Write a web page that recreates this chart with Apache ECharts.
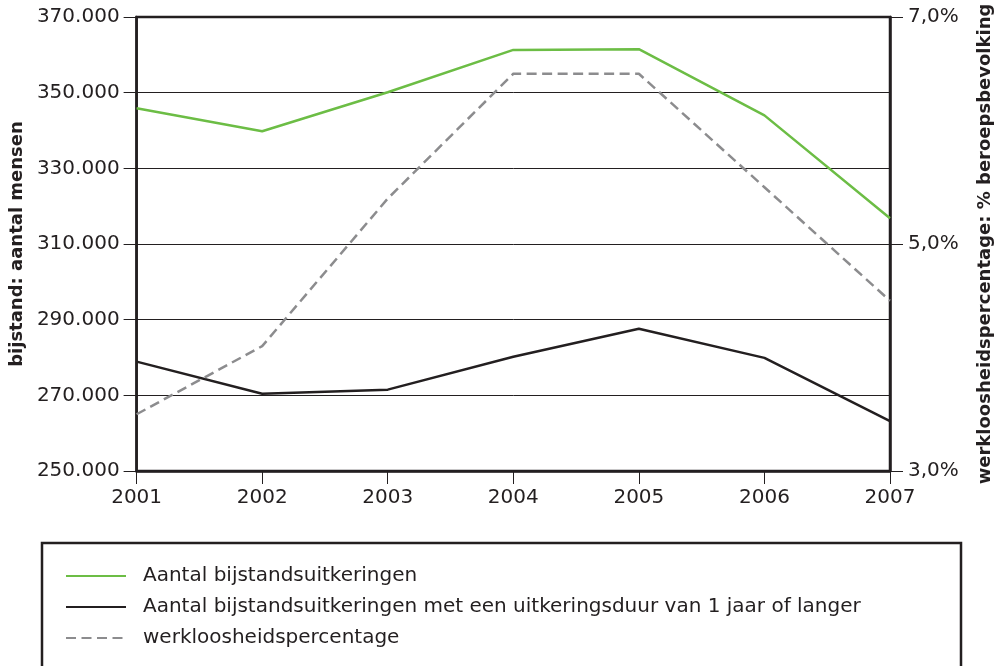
<!DOCTYPE html>
<html>
<head>
<meta charset="utf-8">
<script src="https://cdn.jsdelivr.net/npm/echarts@6/dist/echarts.min.js"></script>
<style>
  html, body { margin: 0; padding: 0; background: #fff; }
  #chart { width: 1003px; height: 666px; }
</style>
</head>
<body>
<div id="chart"></div>
<script>
window.addEventListener("load", function () {
    var myChart = echarts.init(document.querySelector("#chart"));

    // jaren op de x-as
    var jaren = ['2001', '2002', '2003', '2004', '2005', '2006', '2007'];
    // aantal bijstandsuitkeringen
    var bijstand = [345900, 339800, 350100, 361300, 361500, 344000, 316800];
    // uitkeringsduur 1 jaar of langer
    var bijstandLang = [278900, 270400, 271500, 280200, 287600, 279900, 263200];
    // werkloosheidspercentage (%)
    var werkloos = [3.5, 4.1, 5.4, 6.5, 6.5, 5.5, 4.5];

    var namen = [
        'Aantal bijstandsuitkeringen',
        'Aantal bijstandsuitkeringen met een uitkeringsduur van 1 jaar of langer',
        'werkloosheidspercentage'
    ];

    var font = 'DejaVu Sans, Verdana, sans-serif';
    var donker = '#231f20';

    var option = {
        animation: false,
        textStyle: { fontFamily: font },
        grid: {
            left: 135, right: 113, top: 17, bottom: 195,
            show: true, borderColor: donker, borderWidth: 2.5
        },
        xAxis: {
            type: 'category',
            data: jaren,
            boundaryGap: false,
            axisLine: { lineStyle: { color: donker, width: 2.5 } },
            axisTick: { show: true, length: 13, lineStyle: { color: donker, width: 1 } },
            axisLabel: { color: donker, fontSize: 20, margin: 17, fontFamily: font }
        },
        yAxis: [{
            type: 'value',
            min: 250000, max: 370000, interval: 20000,
            name: 'bijstand: aantal mensen',
            nameLocation: 'middle',
            nameGap: 103,
            nameTextStyle: { fontWeight: 'bold', fontSize: 18, color: donker, fontFamily: font },
            axisLine: { show: true, lineStyle: { color: donker, width: 2.5 } },
            axisTick: { show: true, length: 13, lineStyle: { color: donker, width: 1 } },
            axisLabel: {
                color: donker, fontSize: 20, margin: 17, fontFamily: font,
                formatter: function (v) {
                    return String(v).replace(/\B(?=(\d{3})+(?!\d))/g, '.');
                }
            },
            splitLine: { show: true, lineStyle: { color: donker, width: 1 } }
        }, {
            type: 'value',
            min: 3, max: 7, interval: 2,
            position: 'right',
            name: 'werkloosheidspercentage: % beroepsbevolking',
            nameLocation: 'middle',
            nameGap: 86,
            nameTextStyle: { fontWeight: 'bold', fontSize: 18, color: donker, fontFamily: font },
            axisLine: { show: true, lineStyle: { color: donker, width: 2.5 } },
            axisTick: { show: true, length: 13, lineStyle: { color: donker, width: 1 } },
            axisLabel: {
                color: donker, fontSize: 20, margin: 18, fontFamily: font,
                formatter: function (v) { return v.toFixed(1).replace('.', ',') + '%'; }
            },
            splitLine: { show: false }
        }],
        legend: {
            orient: 'vertical',
            left: 60, top: 561,
            itemWidth: 60, itemHeight: 16,
            itemGap: 11,
            itemStyle: { opacity: 0 },
            textStyle: { fontSize: 20, lineHeight: 20, color: donker, fontFamily: font, padding: [0, 0, 0, 12] },
            data: namen
        },
        graphic: [{
            type: 'rect',
            shape: { x: 42, y: 543, width: 919, height: 140 },
            style: { fill: 'none', stroke: donker, lineWidth: 2.5 }
        }],
        series: [{
            name: namen[0],
            type: 'line',
            data: bijstand,
            symbol: 'none',
            lineStyle: { color: '#6cbd45', width: 2.5 },
            itemStyle: { color: '#6cbd45' }
        }, {
            name: namen[1],
            type: 'line',
            data: bijstandLang,
            symbol: 'none',
            lineStyle: { color: donker, width: 2.5 },
            itemStyle: { color: donker }
        }, {
            name: namen[2],
            type: 'line',
            yAxisIndex: 1,
            data: werkloos,
            symbol: 'none',
            lineStyle: { color: '#8c8c8e', width: 2.5, type: [10, 5.5] },
            itemStyle: { color: '#8c8c8e' }
        }]
    };

    myChart.setOption(option);
});
</script>
</body>
</html>
